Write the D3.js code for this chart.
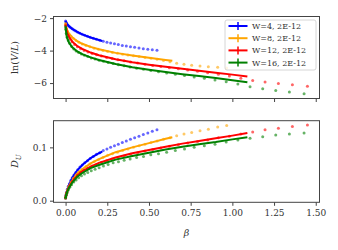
<!DOCTYPE html>
<html>
<head>
<meta charset="utf-8">
<script src="https://cdn.jsdelivr.net/npm/d3@7"></script>
<style>
  body { margin: 0; background: #fff; }
  svg { display: block; }
  .tick text { font-family: "DejaVu Serif", serif; font-size: 9px; fill: #333; }
  .tick line { stroke: #444; }
  .domain { stroke: none; }
</style>
</head>
<body>
<div id="chart"></div>
<script>
// legend labels
const seriesNames = ["W=4, 2E-12", "W=8, 2E-12", "W=12, 2E-12", "W=16, 2E-12"];
const seriesColors = ["blue", "orange", "red", "green"];

// scattered points (beta, ln(V/L), D_U)
const blueBeta = [0, 0.002, 0.005, 0.01, 0.016, 0.023, 0.031, 0.04, 0.05, 0.061, 0.073, 0.086, 0.1, 0.115, 0.131, 0.148, 0.166, 0.185, 0.205, 0.226, 0.248, 0.27, 0.293, 0.316, 0.34, 0.364, 0.389, 0.414, 0.44, 0.466, 0.493, 0.52, 0.548];
const blueLn = [-2.17, -2.24, -2.30, -2.38, -2.45, -2.52, -2.59, -2.66, -2.73, -2.80, -2.87, -2.93, -3.00, -3.06, -3.12, -3.18, -3.24, -3.30, -3.36, -3.42, -3.48, -3.53, -3.58, -3.63, -3.68, -3.72, -3.76, -3.80, -3.84, -3.88, -3.91, -3.95, -3.98];
const blueD = [0.005, 0.010, 0.015, 0.021, 0.027, 0.032, 0.038, 0.043, 0.048, 0.053, 0.058, 0.063, 0.067, 0.071, 0.075, 0.079, 0.083, 0.087, 0.090, 0.094, 0.097, 0.100, 0.103, 0.106, 0.109, 0.112, 0.115, 0.118, 0.121, 0.124, 0.127, 0.130, 0.133];

const orangeBeta = [0, 0.001, 0.005, 0.011, 0.02, 0.032, 0.046, 0.062, 0.08, 0.1, 0.122, 0.146, 0.171, 0.197, 0.224, 0.252, 0.281, 0.311, 0.342, 0.374, 0.407, 0.441, 0.476, 0.512, 0.549, 0.587, 0.626, 0.666, 0.71, 0.756, 0.806, 0.856, 0.912, 0.966];
const orangeLn = [-2.33, -2.45, -2.62, -2.80, -2.96, -3.12, -3.26, -3.38, -3.49, -3.59, -3.68, -3.77, -3.85, -3.92, -3.99, -4.05, -4.11, -4.17, -4.22, -4.27, -4.32, -4.37, -4.42, -4.47, -4.54, -4.61, -4.68, -4.78, -4.84, -4.90, -4.95, -4.99, -5.03, -5.07];
const orangeD = [0.005, 0.008, 0.014, 0.020, 0.027, 0.035, 0.042, 0.048, 0.054, 0.059, 0.064, 0.069, 0.073, 0.077, 0.081, 0.085, 0.088, 0.091, 0.094, 0.097, 0.100, 0.103, 0.106, 0.109, 0.112, 0.115, 0.118, 0.122, 0.125, 0.128, 0.131, 0.134, 0.138, 0.141];

const redBeta = [0, 0.003, 0.008, 0.016, 0.026, 0.039, 0.054, 0.071, 0.09, 0.111, 0.134, 0.159, 0.186, 0.215, 0.246, 0.279, 0.314, 0.351, 0.39, 0.432, 0.476, 0.522, 0.571, 0.622, 0.676, 0.732, 0.791, 0.852, 0.916, 0.982, 1.051, 1.122, 1.196, 1.276, 1.36, 1.45];
const redLn = [-2.42, -2.65, -2.85, -3.05, -3.25, -3.45, -3.62, -3.76, -3.88, -3.99, -4.09, -4.18, -4.26, -4.34, -4.42, -4.49, -4.56, -4.63, -4.70, -4.77, -4.84, -4.91, -4.98, -5.05, -5.12, -5.19, -5.27, -5.36, -5.46, -5.57, -5.70, -5.84, -5.94, -6.02, -6.11, -6.20];
const redD = [0.005, 0.010, 0.016, 0.022, 0.029, 0.036, 0.042, 0.048, 0.053, 0.057, 0.061, 0.065, 0.068, 0.072, 0.075, 0.078, 0.081, 0.084, 0.087, 0.090, 0.093, 0.096, 0.099, 0.102, 0.105, 0.108, 0.111, 0.114, 0.118, 0.121, 0.125, 0.129, 0.133, 0.136, 0.139, 0.142];

const greenBeta = [0, 0.001, 0.004, 0.009, 0.016, 0.025, 0.036, 0.049, 0.063, 0.078, 0.095, 0.113, 0.133, 0.154, 0.177, 0.201, 0.227, 0.255, 0.285, 0.317, 0.351, 0.387, 0.426, 0.467, 0.511, 0.557, 0.606, 0.658, 0.713, 0.771, 0.832, 0.896, 0.963, 1.033, 1.106, 1.182, 1.26, 1.342, 1.43];
const greenLn = [-2.53, -2.70, -2.95, -3.18, -3.38, -3.57, -3.75, -3.90, -4.02, -4.12, -4.21, -4.29, -4.37, -4.45, -4.52, -4.59, -4.66, -4.73, -4.80, -4.87, -4.94, -5.01, -5.08, -5.15, -5.22, -5.30, -5.38, -5.46, -5.54, -5.62, -5.71, -5.81, -5.92, -6.06, -6.22, -6.35, -6.46, -6.55, -6.66];
const greenD = [0.005, 0.007, 0.011, 0.015, 0.020, 0.025, 0.030, 0.035, 0.039, 0.043, 0.047, 0.050, 0.053, 0.056, 0.059, 0.062, 0.065, 0.068, 0.071, 0.073, 0.076, 0.078, 0.081, 0.083, 0.086, 0.088, 0.091, 0.094, 0.097, 0.100, 0.103, 0.106, 0.110, 0.114, 0.117, 0.120, 0.123, 0.125, 0.127];

// fitted lines
const blueLineBeta = [0, 0.005, 0.01, 0.02, 0.04, 0.07, 0.1, 0.15, 0.2, 0.22];
const blueLineLn = [-2.17, -2.30, -2.38, -2.50, -2.66, -2.85, -3.00, -3.19, -3.35, -3.41];
const blueLineD = [0.005, 0.015, 0.021, 0.029, 0.043, 0.057, 0.067, 0.080, 0.089, 0.092];

const orangeLineBeta = [0, 0.005, 0.01, 0.02, 0.04, 0.07, 0.1, 0.15, 0.2, 0.3, 0.4, 0.5, 0.6, 0.64];
const orangeLineLn = [-2.31, -2.62, -2.78, -2.96, -3.18, -3.42, -3.58, -3.77, -3.92, -4.14, -4.30, -4.44, -4.58, -4.63];
const orangeLineD = [0.005, 0.014, 0.019, 0.027, 0.038, 0.051, 0.059, 0.070, 0.078, 0.091, 0.100, 0.108, 0.116, 0.119];

const redLineBeta = [0, 0.005, 0.01, 0.02, 0.04, 0.07, 0.1, 0.15, 0.2, 0.3, 0.4, 0.5, 0.6, 0.7, 0.8, 0.9, 1.0, 1.09];
const redLineLn = [-2.42, -2.75, -2.92, -3.15, -3.45, -3.72, -3.90, -4.12, -4.29, -4.53, -4.72, -4.87, -5.00, -5.12, -5.24, -5.36, -5.48, -5.60];
const redLineD = [0.005, 0.013, 0.018, 0.025, 0.036, 0.047, 0.055, 0.064, 0.071, 0.081, 0.089, 0.095, 0.101, 0.107, 0.112, 0.117, 0.122, 0.127];

const greenLineBeta = [0, 0.005, 0.01, 0.02, 0.04, 0.07, 0.1, 0.15, 0.2, 0.3, 0.4, 0.5, 0.6, 0.7, 0.8, 0.9, 1.0, 1.09];
const greenLineLn = [-2.53, -3.05, -3.25, -3.50, -3.80, -4.05, -4.22, -4.42, -4.58, -4.82, -5.02, -5.18, -5.32, -5.45, -5.57, -5.69, -5.82, -5.95];
const greenLineD = [0.005, 0.012, 0.017, 0.024, 0.034, 0.045, 0.052, 0.061, 0.067, 0.077, 0.084, 0.090, 0.096, 0.101, 0.106, 0.110, 0.115, 0.119];

const xTicks = [0, 0.25, 0.5, 0.75, 1.0, 1.25, 1.5];
const topTicks = [-2, -4, -6];
const bottomTicks = [0, 0.1];

const series = [
  { name: seriesNames[0], color: seriesColors[0], beta: blueBeta, ln: blueLn, d: blueD, lb: blueLineBeta, lln: blueLineLn, ld: blueLineD },
  { name: seriesNames[1], color: seriesColors[1], beta: orangeBeta, ln: orangeLn, d: orangeD, lb: orangeLineBeta, lln: orangeLineLn, ld: orangeLineD },
  { name: seriesNames[2], color: seriesColors[2], beta: redBeta, ln: redLn, d: redD, lb: redLineBeta, lln: redLineLn, ld: redLineD },
  { name: seriesNames[3], color: seriesColors[3], beta: greenBeta, ln: greenLn, d: greenD, lb: greenLineBeta, lln: greenLineLn, ld: greenLineD }
];

const width = 338;
const height = 250;

const svg = d3.select("#chart")
  .append("svg")
  .attr("width", width)
  .attr("height", height);

const x = d3.scaleLinear()
  .domain([-0.0725, 1.5225])
  .range([53.5, 319.5]);

const yTop = d3.scaleLinear()
  .domain([-6.95, -1.9])
  .range([98.5, 16.5]);

const yBot = d3.scaleLinear()
  .domain([-0.003, 0.15])
  .range([202.3, 120.7]);

function drawPanel(y, yTickVals, yFmt, key, lineKey, showXLabels) {
  const [y0, y1] = y.range();

  const g = svg.append("g");

  const clip = "clip-" + key;
  svg.append("clipPath").attr("id", clip)
    .append("rect")
    .attr("x", x.range()[0]).attr("y", y1)
    .attr("width", x.range()[1] - x.range()[0]).attr("height", y0 - y1);

  const plot = g.append("g").attr("clip-path", `url(#${clip})`);

  const line = d3.line()
    .x(d => x(d[0]))
    .y(d => y(d[1]));

  series.forEach(s => {
    const pts = s.beta.map((b, i) => [b, s[key][i]]);
    plot.selectAll(null)
      .data(pts)
      .enter()
      .append("circle")
      .attr("cx", d => x(d[0]))
      .attr("cy", d => y(d[1]))
      .attr("r", 1.5)
      .attr("fill", s.color)
      .attr("opacity", 0.6);

    const lpts = s.lb.map((b, i) => [b, s[lineKey][i]]);
    plot.append("path")
      .attr("d", line(lpts))
      .attr("fill", "none")
      .attr("stroke", s.color)
      .attr("stroke-width", 2);
  });

  g.append("rect")
    .attr("x", x.range()[0]).attr("y", y1)
    .attr("width", x.range()[1] - x.range()[0]).attr("height", y0 - y1)
    .attr("fill", "none")
    .attr("stroke", "#444")
    .attr("stroke-width", 1);

  g.append("g")
    .attr("transform", `translate(${x.range()[0]},0)`)
    .call(d3.axisLeft(y).tickValues(yTickVals).tickFormat(yFmt).tickSize(3.5).tickPadding(3));

  g.append("g")
    .attr("transform", `translate(0,${y0})`)
    .call(d3.axisBottom(x).tickValues(xTicks)
      .tickFormat(showXLabels ? d3.format(".2f") : "")
      .tickSize(3.5).tickPadding(4));
}

drawPanel(yTop, topTicks, d => d3.format("d")(d).replace("-", "\u2212"), "ln", "lln", false);
drawPanel(yBot, bottomTicks, d3.format(".1f"), "d", "ld", true);

// axis labels
const ylab1 = svg.append("text")
  .attr("transform", "translate(18,57.5) rotate(-90)")
  .attr("text-anchor", "middle")
  .style("font-family", "DejaVu Serif, serif")
  .style("font-size", "9.5px")
  .attr("fill", "#333");
ylab1.append("tspan").text("ln(");
ylab1.append("tspan").attr("font-style", "italic").text("V");
ylab1.append("tspan").text("/");
ylab1.append("tspan").attr("font-style", "italic").text("L");
ylab1.append("tspan").text(")");

const ylab2 = svg.append("text")
  .attr("transform", "translate(18,161) rotate(-90)")
  .attr("text-anchor", "middle")
  .style("font-family", "DejaVu Serif, serif")
  .style("font-size", "9.5px")
  .attr("fill", "#333");
ylab2.append("tspan").attr("font-style", "italic").text("D");
ylab2.append("tspan").attr("font-style", "italic").attr("font-size", "7px").attr("dy", 2.5).text("U");

svg.append("text")
  .attr("x", 186.5)
  .attr("y", 236)
  .attr("text-anchor", "middle")
  .style("font-family", "DejaVu Serif, serif")
  .style("font-size", "9.5px")
  .style("font-style", "italic")
  .attr("fill", "#333")
  .text("β");

// legend
const legend = svg.append("g").attr("transform", "translate(225,20)");

legend.append("rect")
  .attr("width", 91)
  .attr("height", 50)
  .attr("rx", 2)
  .attr("fill", "#fff")
  .attr("fill-opacity", 0.8)
  .attr("stroke", "#ccc")
  .attr("stroke-width", 0.8);

series.forEach((s, i) => {
  const row = legend.append("g")
    .attr("transform", `translate(0, ${6 + i * 12.2})`);

  row.append("line")
    .attr("x1", 3.5).attr("x2", 22.5)
    .attr("y1", 0).attr("y2", 0)
    .attr("stroke", s.color)
    .attr("stroke-width", 2);

  row.append("line")
    .attr("x1", 13).attr("x2", 13)
    .attr("y1", -4).attr("y2", 4)
    .attr("stroke", s.color)
    .attr("stroke-width", 1.5);

  row.append("text")
    .attr("x", 27)
    .attr("y", 3)
    .style("font-family", "DejaVu Serif, serif")
    .style("font-size", "8px")
    .attr("fill", "#333")
    .text(s.name);
});
</script>
</body>
</html>
